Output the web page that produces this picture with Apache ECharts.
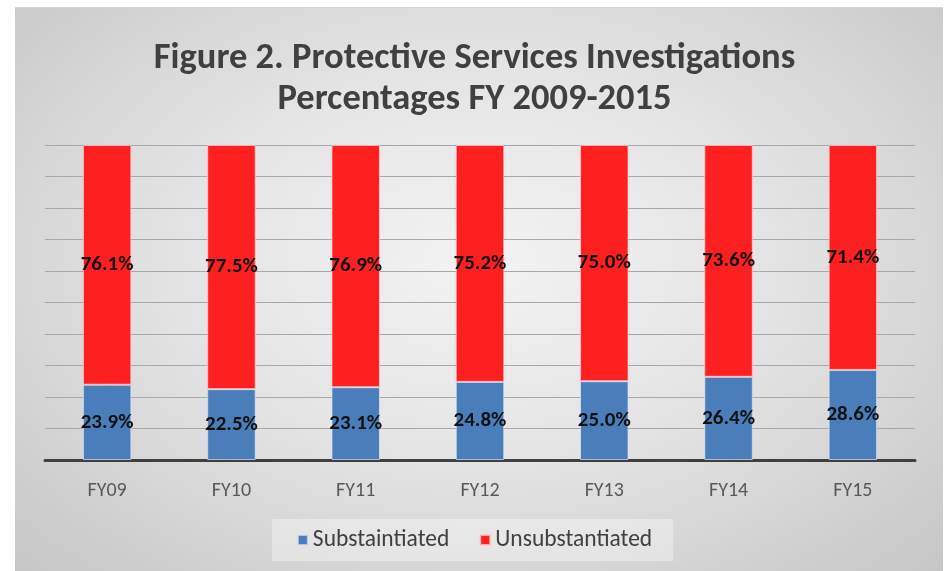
<!DOCTYPE html>
<html>
<head>
<meta charset="utf-8">
<script src="https://cdn.jsdelivr.net/npm/echarts@6/dist/echarts.min.js"></script>
<style>
  html, body { margin: 0; padding: 0; background: #fff; }
  #bg {
    position: absolute; left: 15px; top: 7px; width: 928px; height: 564px;
    background: radial-gradient(ellipse at 50% 45%, #f3f3f3 0%, #e4e4e4 45%, #c6c6c6 100%);
    border-top: 1px solid #d8d8d8;
  }
  #chart { position: absolute; left: 0; top: 0; width: 949px; height: 571px; }
</style>
</head>
<body>
<div id="bg"></div>
<div id="chart"></div>
<script>
// 分类与数据
const categories = ["FY09", "FY10", "FY11", "FY12", "FY13", "FY14", "FY15"];
const substantiated = [23.9, 22.5, 23.1, 24.8, 25.0, 26.4, 28.6];
const unsubstantiated = [76.1, 77.5, 76.9, 75.2, 75.0, 73.6, 71.4];
const seriesNames = ["Substaintiated", "Unsubstantiated"];

const fontFam = 'Carlito, "Open Sans", "Noto Sans", sans-serif';

let myChart = echarts.init(document.getElementById("chart"));
const labelStyle = {
  show: true,
  position: "inside",
  color: "#111",
  fontWeight: "bold",
  fontSize: 21,
  fontFamily: fontFam,
  formatter: p => p.value.toFixed(1) + "%"
};

const option = {
  backgroundColor: "transparent",
  animation: false,
  title: {
    text: "Figure 2. Protective Services Investigations\nPercentages FY 2009-2015",
    left: "center",
    top: 33,
    textStyle: {
      fontFamily: fontFam,
      fontSize: 36.5,
      fontWeight: "bold",
      color: "#404040",
      lineHeight: 41
    }
  },
  graphic: [
    {
      type: "rect",
      shape: { x: 272, y: 519, width: 401, height: 42 },
      style: { fill: "rgba(255,255,255,0.35)" },
      z: 0
    }
  ],
  legend: {
    bottom: 14,
    left: "center",
    itemWidth: 10,
    itemHeight: 10,
    itemGap: 30,
    icon: "rect",
    textStyle: { fontFamily: fontFam, fontSize: 23.5, color: "#404040" },
    data: seriesNames
  },
  grid: { left: 45, right: 34, top: 145, bottom: 111, containLabel: false },
  xAxis: {
    type: "category",
    data: categories,
    axisLine: { lineStyle: { color: "#404040", width: 3 } },
    axisTick: { show: false },
    axisLabel: { color: "#595959", fontSize: 20, fontFamily: fontFam, margin: 21 }
  },
  yAxis: {
    type: "value",
    min: 0,
    max: 100,
    interval: 10,
    axisLabel: { show: false },
    axisLine: { show: false },
    axisTick: { show: false },
    splitLine: { lineStyle: { color: "#a8a8a8", width: 1 } }
  },
  series: [
    {
      name: seriesNames[0],
      type: "bar",
      stack: "total",
      barWidth: "39%",
      itemStyle: { color: "#4a7ebb", borderColor: "rgba(220,230,245,0.7)", borderWidth: 1 },
      label: labelStyle,
      data: substantiated
    },
    {
      name: seriesNames[1],
      type: "bar",
      stack: "total",
      barWidth: "39%",
      itemStyle: { color: "#fe2020", borderColor: "rgba(255,200,200,0.8)", borderWidth: 1 },
      label: labelStyle,
      data: unsubstantiated
    }
  ]
};
myChart.setOption(option);
</script>
</body>
</html>
